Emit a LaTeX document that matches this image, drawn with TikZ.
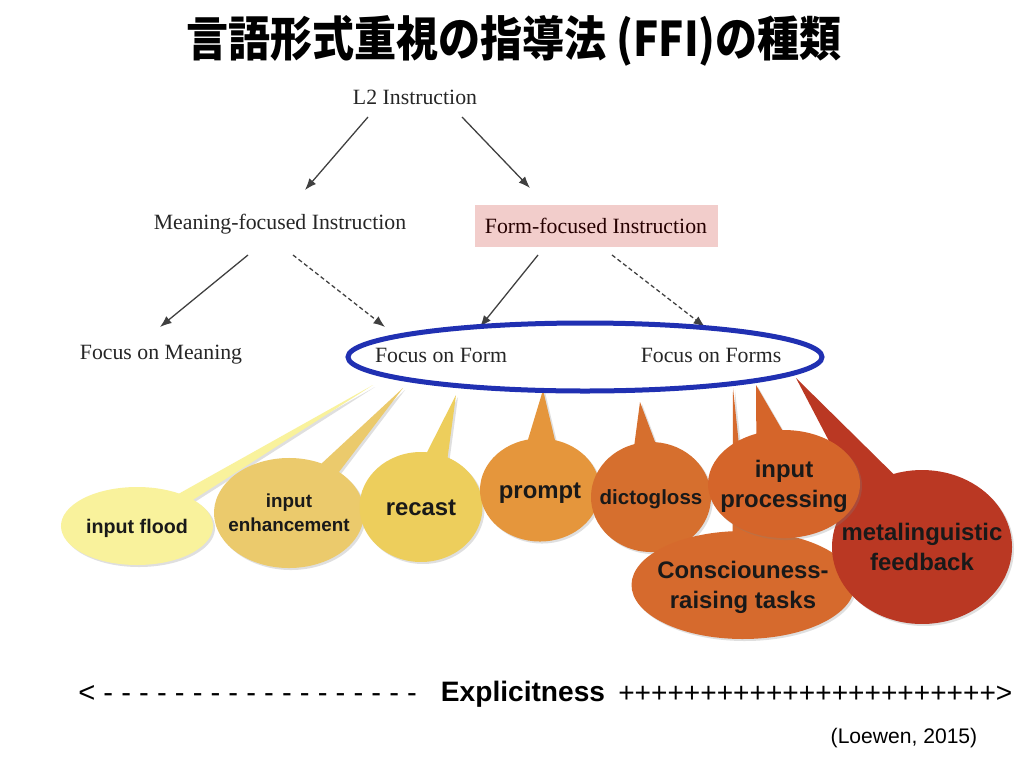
\documentclass[tikz,border=0pt]{standalone}
\usepackage{fontspec}
\setmainfont{Liberation Serif}
\setsansfont{Liberation Sans}
\newfontfamily\jpfont{Noto Sans CJK JP}[FakeStretch=0.88]
\usetikzlibrary{shapes.geometric,shapes.callouts,shadows,arrows.meta,calc}
\definecolor{pinkbox}{RGB}{242,205,203}
\definecolor{ringblue}{RGB}{32,48,178}
\definecolor{cflood}{RGB}{249,242,156}
\definecolor{cenh}{RGB}{235,202,108}
\definecolor{crecast}{RGB}{237,206,92}
\definecolor{cprompt}{RGB}{229,150,60}
\definecolor{cdicto}{RGB}{214,111,46}
\definecolor{cinproc}{RGB}{213,101,42}
\definecolor{ccr}{RGB}{214,106,45}
\definecolor{cmeta}{RGB}{186,56,35}
\newcommand\btxt[1]{\smash{\makebox[0pt]{\raisebox{-0.37em}{\begin{tabular}{@{}c@{}}#1\end{tabular}}}}}
\begin{document}
\begin{tikzpicture}[x=0.25mm,y=-0.25mm,
    lbl/.style={font=\fontsize{15.5}{18}\selectfont, text=black!85, inner sep=0pt},
    arr/.style={-{Latex[length=2.9mm,width=2.2mm]}, line width=0.32mm, black!75},
    darr/.style={arr, densely dashed},
    bubble/.style={ellipse callout, inner sep=0pt, outer sep=0pt,
      font=\sffamily\bfseries, text=black!90,
      drop shadow={shadow xshift=0.5mm, shadow yshift=-0.5mm, opacity=0.25}},
    big/.style={font=\sffamily\bfseries\fontsize{17}{21.5}\selectfont}]
  \useasboundingbox[fill=white] (0,0) rectangle (1024,768);

  \node[font=\jpfont\bfseries\fontsize{34}{40}\selectfont] (title) at (514,41)
    {言語形式重視の指導法 (FFI)の種類};

  \node[lbl] (l2) at (415,97) {L2 Instruction};
  \node[lbl] (mfi) at (280,224) {Meaning-focused Instruction};
  \node[lbl, fill=pinkbox, minimum width=60.75mm, minimum height=10.5mm,
    text=black!75!red!60!black] (formfi) at (596,226) {Form-focused Instruction};
  \node[lbl] (fom) at (161,355) {Focus on Meaning};
  \node[lbl] (fonf) at (441,355) {Focus on Form};
  \node[lbl] (fonfs) at (711,355) {Focus on Forms};

  \begin{scope}
    \draw[arr] ($(l2.center)+(-47,20)$) -- ($(mfi.center)+(25,-34)$);
    \draw[arr] ($(l2.center)+(47,20)$) -- ($(formfi.center)+(-66,-38)$);
    \draw[arr] ($(mfi.center)+(-32,31)$) -- ($(fom.center)+(-1,-28)$);
    \draw[darr] ($(mfi.center)+(13,31)$) -- ($(fonf.center)+(-56,-28)$);
    \draw[arr] ($(formfi.center)+(-58,29)$) -- ($(fonf.center)+(39,-28)$);
    \draw[darr] ($(formfi.center)+(16,29)$) -- ($(fonfs.center)+(-6,-28)$);
  \end{scope}

  \coordinate (tflood) at (373,385);
  \coordinate (tenh) at (403,388);
  \coordinate (trecast) at (456,395);
  \coordinate (tprompt) at (543,390);
  \coordinate (tdicto) at (640,402);
  \coordinate (tcr) at (733,388);
  \coordinate (tinproc) at (756,385);
  \coordinate (tmeta) at (796,378);

  \node[bubble, fill=cflood, minimum width=38mm, minimum height=19.5mm,
    callout absolute pointer={(tflood)}, callout pointer arc=14,
    font=\sffamily\bfseries\fontsize{14}{17}\selectfont] (flood) at (137,526) {\btxt{input flood}};
  \node[bubble, fill=cenh, minimum width=37.5mm, minimum height=27.5mm,
    callout absolute pointer={(tenh)}, callout pointer arc=16,
    font=\sffamily\bfseries\fontsize{13.4}{16.5}\selectfont] (enh) at (289,513) {\btxt{input\\enhancement}};
  \node[bubble, fill=crecast, minimum width=30.75mm, minimum height=27.5mm,
    callout absolute pointer={(trecast)}, callout pointer arc=20, big] (recast) at (421,507) {\btxt{recast}};
  \node[bubble, fill=cprompt, minimum width=30mm, minimum height=25.75mm,
    callout absolute pointer={(tprompt)}, callout pointer arc=26, big] (prompt) at (540,490) {\btxt{prompt}};
  \node[bubble, fill=cdicto, minimum width=30mm, minimum height=27.5mm,
    callout absolute pointer={(tdicto)}, callout pointer arc=20,
    font=\sffamily\bfseries\fontsize{14.6}{17.5}\selectfont] (dicto) at (651,497) {\btxt{dictogloss}};
  \node[bubble, fill=ccr, minimum width=55.75mm, minimum height=27mm,
    callout absolute pointer={(tcr)}, callout pointer arc=8, big] (cr) at (743,585) {\btxt{Consciouness-\\raising tasks}};
  \node[bubble, fill=cmeta, minimum width=45mm, minimum height=38.5mm,
    callout absolute pointer={(tmeta)}, callout pointer arc=28, big] (meta) at (922,547) {\btxt{metalinguistic\\feedback}};
  \node[bubble, fill=cinproc, minimum width=38mm, minimum height=27mm,
    callout absolute pointer={(tinproc)}, callout pointer arc=20, big] (inproc) at (784,484) {\btxt{input\\processing}};

  \node[ellipse, draw=ringblue, line width=1.25mm, minimum width=118.5mm,
    minimum height=17mm] (focus) at (585,357) {};

  \node[font=\sffamily\fontsize{20.8}{24}\selectfont, anchor=west, inner sep=0pt] (less) at (78,694)
    {< - - - - - - - - - - - - - - - - - -};
  \node[font=\sffamily\bfseries\fontsize{20}{24}\selectfont, inner sep=0pt] (expl) at (523,694) {Explicitness};
  \node[font=\sffamily\fontsize{20}{24}\selectfont, anchor=west, inner sep=0pt] (more) at (618,694)
    {+++++++++++++++++++++++>};
  \node[font=\sffamily\fontsize{15}{18}\selectfont] (src) at (904,738) {(Loewen, 2015)};
\end{tikzpicture}
\end{document}
